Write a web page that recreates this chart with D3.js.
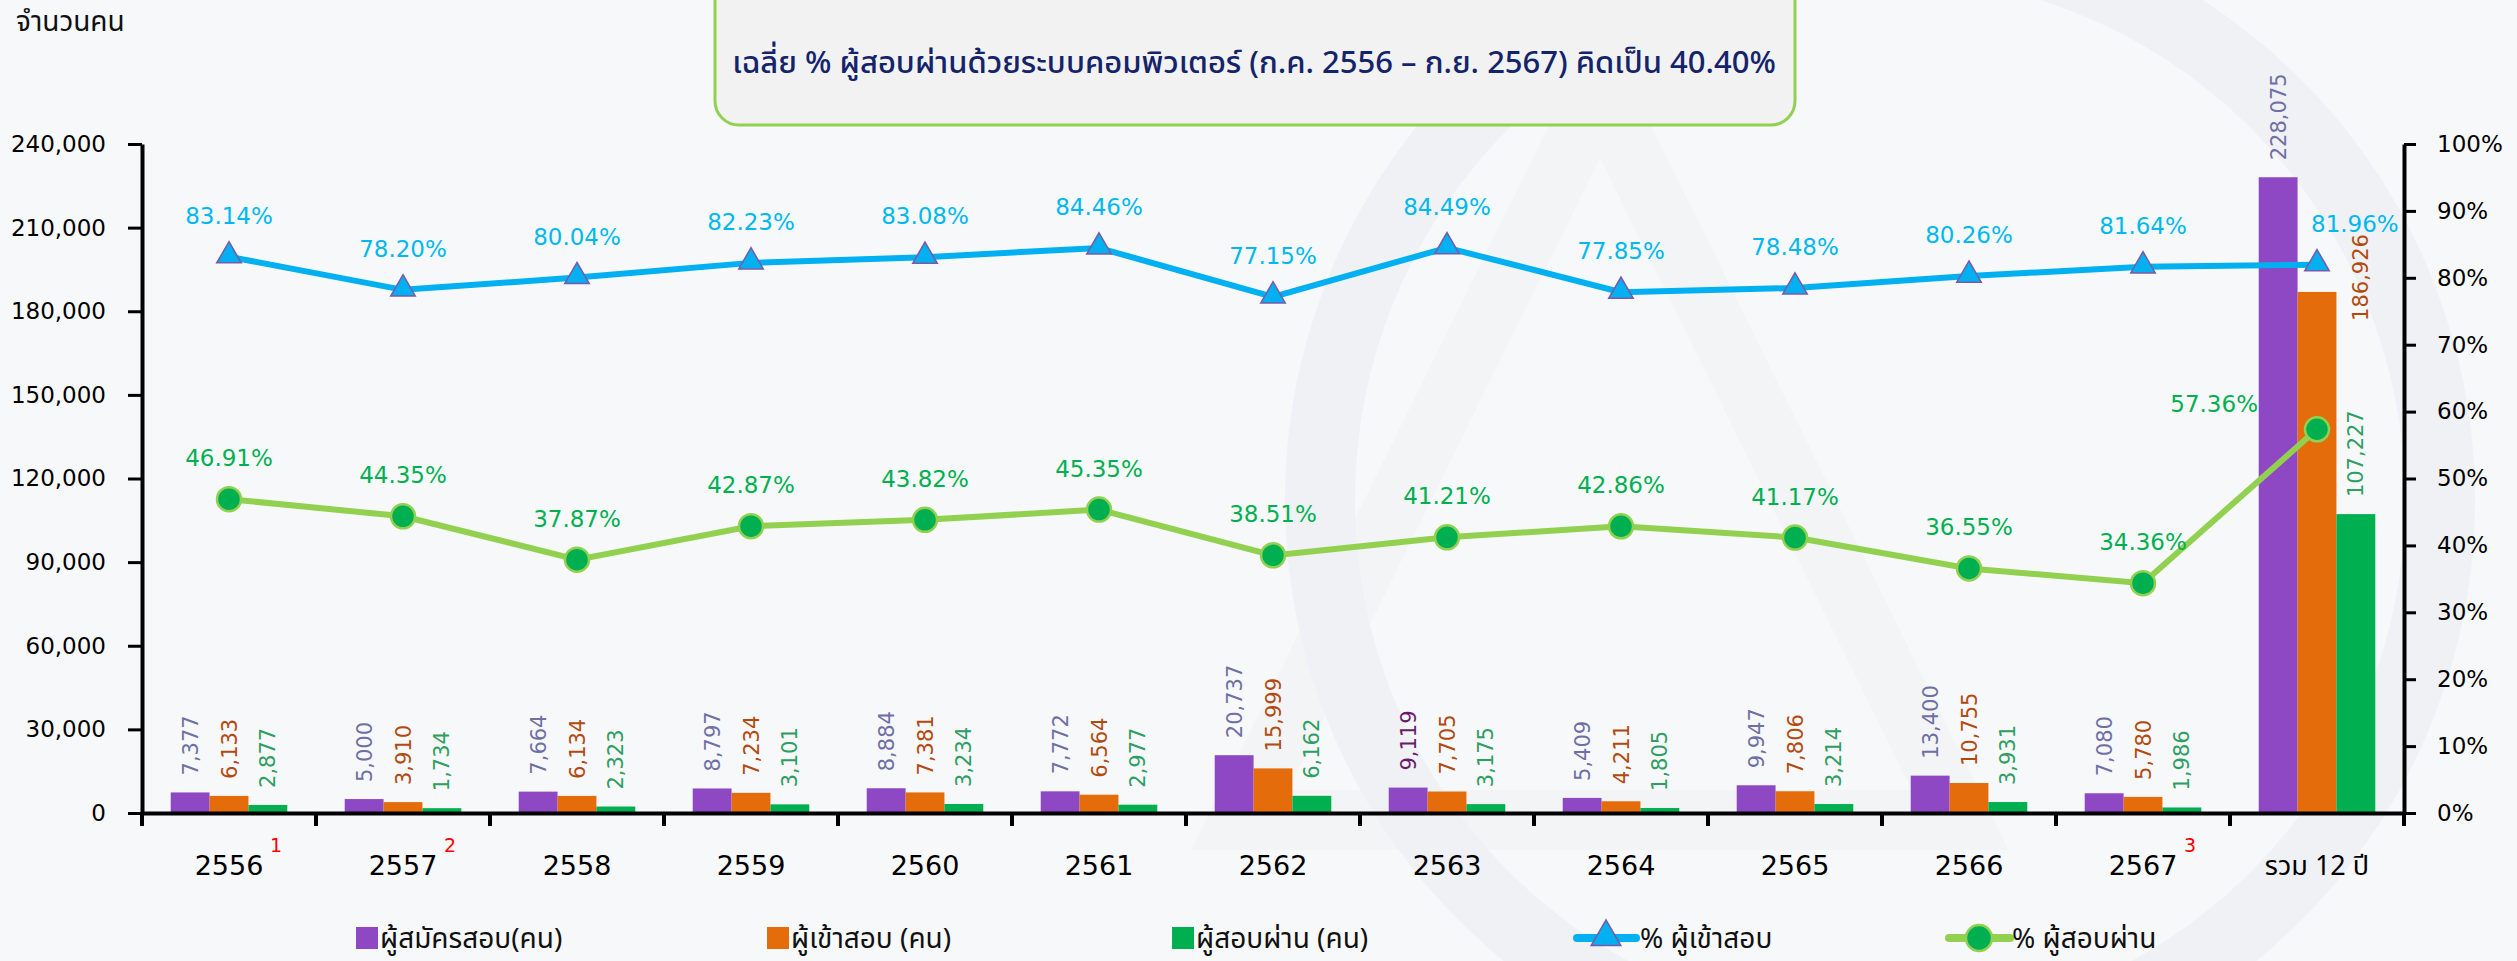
<!DOCTYPE html>
<html>
<head>
<meta charset="utf-8">
<script src="https://cdn.jsdelivr.net/npm/d3@7"></script>
<style>
  body { margin: 0; background: #f7f8fa; }
  svg { display: block; }
  .thai { font-family: "Noto Sans Thai", "Noto Sans Thai UI", "Loma", "Garuda", "Tahoma", sans-serif; }
  .num { font-family: "DejaVu Sans", Verdana, sans-serif; }
</style>
</head>
<body>
<svg></svg>
<script>
const categories = ["2556", "2557", "2558", "2559", "2560", "2561", "2562", "2563", "2564", "2565", "2566", "2567", "รวม 12 ปี"];
const footnotes = {"2556": "1", "2557": "2", "2567": "3"};

const applicants = [7377, 5000, 7664, 8797, 8884, 7772, 20737, 9119, 5409, 9947, 13400, 7080, 228075];
const takers = [6133, 3910, 6134, 7234, 7381, 6564, 15999, 7705, 4211, 7806, 10755, 5780, 186926];
const passed = [2877, 1734, 2323, 3101, 3234, 2977, 6162, 3175, 1805, 3214, 3931, 1986, 107227];

const pctTaken = [83.14, 78.20, 80.04, 82.23, 83.08, 84.46, 77.15, 84.49, 77.85, 78.48, 80.26, 81.64, 81.96];
const pctPassed = [46.91, 44.35, 37.87, 42.87, 43.82, 45.35, 38.51, 41.21, 42.86, 41.17, 36.55, 34.36, 57.36];

const leftTicks = [0, 30000, 60000, 90000, 120000, 150000, 180000, 210000, 240000];
const rightTicks = [0, 10, 20, 30, 40, 50, 60, 70, 80, 90, 100];

const W = 2517, H = 961;
const margin = {top: 144, right: 113, bottom: 148, left: 142};
const plotW = W - margin.left - margin.right,
      plotH = H - margin.top - margin.bottom;

const svg = d3.select("svg").attr("width", W).attr("height", H);

// faint watermark behind the chart
const wm = svg.append("g").attr("fill", "none").attr("stroke", "#eff1f4");
wm.append("circle").attr("cx", 1880).attr("cy", 500).attr("r", 560).attr("stroke-width", 70);
wm.append("path").attr("d", "M1600,90 L1240,820 L1960,820 Z").attr("stroke-width", 60).attr("opacity", 0.6);

// title box
svg.append("rect")
    .attr("x", 715).attr("y", -25)
    .attr("width", 1080).attr("height", 150)
    .attr("rx", 24)
    .attr("fill", "#f2f2f2")
    .attr("stroke", "#92d050")
    .attr("stroke-width", 3);
svg.append("text")
    .attr("class", "thai")
    .attr("x", 1254).attr("y", 73)
    .attr("text-anchor", "middle")
    .attr("font-size", 31)
    .attr("font-weight", 500)
    .attr("fill", "#14246b")
    .text("เฉลี่ย % ผู้สอบผ่านด้วยระบบคอมพิวเตอร์ (ก.ค. 2556 – ก.ย. 2567) คิดเป็น 40.40%");

svg.append("text")
    .attr("class", "thai")
    .attr("x", 16).attr("y", 31)
    .attr("font-size", 28)
    .attr("fill", "#111")
    .text("จำนวนคน");

const g = svg.append("g").attr("transform", `translate(${margin.left},${margin.top})`);

const x = d3.scaleBand().domain(categories).range([0, plotW]);
const keys = ["applicants", "takers", "passed"];
const xs = d3.scaleBand().domain(keys)
    .range([x.bandwidth() * 0.165, x.bandwidth() * 0.835]);
const y = d3.scaleLinear().domain([0, 240000]).range([plotH, 0]);
const yR = d3.scaleLinear().domain([0, 100]).range([plotH, 0]);

const series = [
  {key: "applicants", values: applicants, fill: "#8e48c4", label: "#6f6fa6"},
  {key: "takers", values: takers, fill: "#e46c0a", label: "#b24a10"},
  {key: "passed", values: passed, fill: "#00b050", label: "#2e9e62"}
];

// bars
series.forEach(s => {
  g.selectAll(".bar-" + s.key)
    .data(categories)
    .enter().append("rect")
    .attr("x", c => x(c) + xs(s.key))
    .attr("y", (c, i) => y(s.values[i]))
    .attr("width", xs.bandwidth())
    .attr("height", (c, i) => plotH - y(s.values[i]))
    .attr("fill", s.fill);
});

// bar value labels (rotated)
const fmt = d3.format(",");
series.forEach(s => {
  g.selectAll(".lab-" + s.key)
    .data(categories)
    .enter().append("text")
    .attr("class", "num")
    .attr("transform", (c, i) => {
      let cx = x(c) + xs(s.key) + xs.bandwidth() / 2;
      let cy = y(s.values[i]) - 17;
      if (s.key === "takers" && i === categories.length - 1) { cx += 43; cy += 46; }
      return `translate(${cx},${cy}) rotate(-90)`;
    })
    .attr("dy", "0.36em")
    .attr("font-size", 21)
    .attr("fill", (c, i) => (s.key === "applicants" && c === "2563") ? "#6a1a6a" : s.label)
    .text((c, i) => fmt(s.values[i]));
});

// left axis
const yAxis = g.append("g")
    .call(d3.axisLeft(y).tickValues(leftTicks).tickFormat(fmt).tickSize(14).tickSizeOuter(0).tickPadding(22));
yAxis.select(".domain").attr("stroke-width", 4);
yAxis.selectAll(".tick line").attr("stroke-width", 3);
yAxis.selectAll("text").attr("class", "num").attr("font-size", 23).attr("fill", "#000");

// right axis
const yAxisR = g.append("g")
    .attr("transform", `translate(${plotW},0)`)
    .call(d3.axisRight(yR).tickValues(rightTicks).tickFormat(d => d + "%").tickSize(12).tickSizeOuter(0).tickPadding(21));
yAxisR.select(".domain").attr("stroke-width", 4);
yAxisR.selectAll(".tick line").attr("stroke-width", 3);
yAxisR.selectAll("text").attr("class", "num").attr("font-size", 23).attr("fill", "#000");

// bottom axis
const xAxis = g.append("g")
    .attr("transform", `translate(0,${plotH})`)
    .call(d3.axisBottom(x).tickSize(0).tickSizeOuter(0).tickPadding(43));
xAxis.select(".domain").attr("stroke-width", 4);
xAxis.selectAll("text")
    .attr("class", d => /^\d{4}$/.test(d) ? "num" : "thai")
    .attr("font-size", 27)
    .attr("fill", "#000");
xAxis.selectAll(".tick")
    .filter(d => footnotes[d])
    .append("text")
    .attr("class", "num")
    .attr("x", 47).attr("y", 39)
    .attr("font-size", 19)
    .attr("fill", "#ff0000")
    .text(d => footnotes[d]);

// boundary ticks on the category axis
const edges = categories.map(c => x(c)).concat([plotW]);
g.selectAll(".edge")
    .data(edges)
    .enter().append("line")
    .attr("x1", d => d).attr("x2", d => d)
    .attr("y1", plotH).attr("y2", plotH + 13)
    .attr("stroke", "#000")
    .attr("stroke-width", 4);

// percentage lines
const cx = c => x(c) + x.bandwidth() / 2;
const line = d3.line().x(d => cx(d.c)).y(d => yR(d.v));
const takenData = categories.map((c, i) => ({c, v: pctTaken[i]}));
const passData = categories.map((c, i) => ({c, v: pctPassed[i]}));

g.append("path")
    .datum(takenData)
    .attr("d", line)
    .attr("fill", "none")
    .attr("stroke", "#00b0f0")
    .attr("stroke-width", 6);
g.append("path")
    .datum(passData)
    .attr("d", line)
    .attr("fill", "none")
    .attr("stroke", "#92d050")
    .attr("stroke-width", 6);

const tri = d3.symbol().type(d3.symbolTriangle).size(260);
g.selectAll(".tri")
    .data(takenData)
    .enter().append("path")
    .attr("transform", d => `translate(${cx(d.c)},${yR(d.v) - 1})`)
    .attr("d", tri)
    .attr("fill", "#00b0f0")
    .attr("stroke", "#7a5aa8")
    .attr("stroke-width", 1.5);

g.selectAll(".dot")
    .data(passData)
    .enter().append("circle")
    .attr("cx", d => cx(d.c))
    .attr("cy", d => yR(d.v))
    .attr("r", 12)
    .attr("fill", "#00b050")
    .attr("stroke", "#92d050")
    .attr("stroke-width", 2.5);

const last = categories[categories.length - 1];
g.selectAll(".plab-t")
    .data(takenData)
    .enter().append("text")
    .attr("class", "num")
    .attr("x", d => d.c === last ? cx(d.c) - 6 : cx(d.c))
    .attr("y", d => yR(d.v) - 33)
    .attr("text-anchor", d => d.c === last ? "start" : "middle")
    .attr("font-size", 23)
    .attr("fill", "#00b8f0")
    .text(d => d.v.toFixed(2) + "%");

g.selectAll(".plab-p")
    .data(passData)
    .enter().append("text")
    .attr("class", "num")
    .attr("x", d => d.c === last ? cx(d.c) - 59 : cx(d.c))
    .attr("y", d => d.c === last ? yR(d.v) - 17 : yR(d.v) - 33)
    .attr("text-anchor", d => d.c === last ? "end" : "middle")
    .attr("font-size", 23)
    .attr("fill", "#00b050")
    .text(d => d.v.toFixed(2) + "%");

// legend
const legend = svg.append("g").attr("transform", "translate(0,938)");
const boxes = [
  {x: 356, fill: "#8e48c4", text: "ผู้สมัครสอบ(คน)"},
  {x: 767, fill: "#e46c0a", text: "ผู้เข้าสอบ (คน)"},
  {x: 1172, fill: "#00b050", text: "ผู้สอบผ่าน (คน)"}
];
boxes.forEach(b => {
  legend.append("rect").attr("x", b.x).attr("y", -11).attr("width", 22).attr("height", 22).attr("fill", b.fill);
  legend.append("text").attr("class", "thai").attr("x", b.x + 24).attr("y", 10)
      .attr("font-size", 28).attr("fill", "#111").text(b.text);
});

legend.append("line").attr("x1", 1577).attr("x2", 1636).attr("y1", 0).attr("y2", 0)
    .attr("stroke", "#00b0f0").attr("stroke-width", 8).attr("stroke-linecap", "round");
legend.append("path").attr("transform", "translate(1606,-1)").attr("d", d3.symbol().type(d3.symbolTriangle).size(380))
    .attr("fill", "#00b0f0").attr("stroke", "#7a5aa8").attr("stroke-width", 1.5);
legend.append("text").attr("class", "thai").attr("x", 1640).attr("y", 10)
    .attr("font-size", 28).attr("fill", "#111").text("% ผู้เข้าสอบ");

legend.append("line").attr("x1", 1949).attr("x2", 2010).attr("y1", 0).attr("y2", 0)
    .attr("stroke", "#92d050").attr("stroke-width", 8).attr("stroke-linecap", "round");
legend.append("circle").attr("cx", 1979).attr("cy", 0).attr("r", 13)
    .attr("fill", "#00b050").attr("stroke", "#92d050").attr("stroke-width", 2.5);
legend.append("text").attr("class", "thai").attr("x", 2012).attr("y", 10)
    .attr("font-size", 28).attr("fill", "#111").text("% ผู้สอบผ่าน");
</script>
</body>
</html>
